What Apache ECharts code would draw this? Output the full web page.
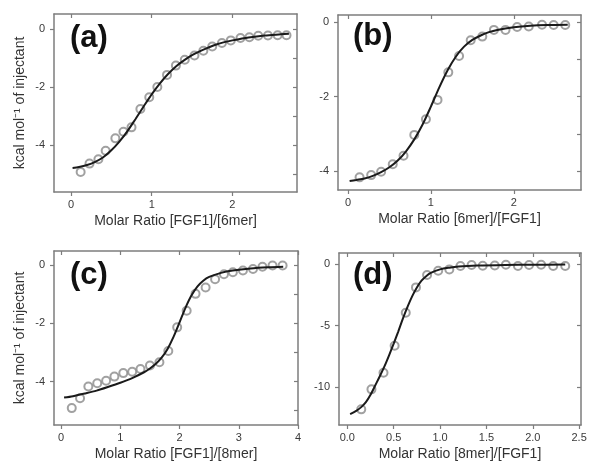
<!DOCTYPE html>
<html>
<head>
<meta charset="utf-8">
<script src="https://cdn.jsdelivr.net/npm/echarts@6/dist/echarts.min.js"></script>
<style>
html, body { margin: 0; background: #fff; }
#chart { width: 589px; height: 469px; }
</style>
</head>
<body>
<div id="chart"></div>
<script>
// (a) FGF1 into 6mer
var aPtX = [0.12, 0.23, 0.34, 0.43, 0.55, 0.65, 0.75, 0.86, 0.97, 1.07, 1.19, 1.30, 1.41, 1.53, 1.64, 1.75, 1.87, 1.98, 2.10, 2.21, 2.32, 2.44, 2.56, 2.67];
var aPtY = [-4.93, -4.64, -4.49, -4.20, -3.77, -3.54, -3.39, -2.76, -2.35, -2.00, -1.58, -1.26, -1.06, -0.91, -0.75, -0.60, -0.48, -0.39, -0.31, -0.28, -0.23, -0.22, -0.21, -0.21];
var aFitX = [0.02, 0.1, 0.2, 0.3, 0.4, 0.5, 0.6, 0.7, 0.8, 0.9, 1.0, 1.1, 1.2, 1.3, 1.4, 1.5, 1.6, 1.7, 1.8, 1.9, 2.0, 2.2, 2.4, 2.6, 2.7];
var aFitY = [-4.79, -4.76, -4.69, -4.58, -4.42, -4.18, -3.88, -3.52, -3.10, -2.67, -2.25, -1.88, -1.56, -1.29, -1.08, -0.90, -0.76, -0.64, -0.53, -0.45, -0.39, -0.29, -0.22, -0.18, -0.16];

// (b) 6mer into FGF1
var bPtX = [0.14, 0.28, 0.40, 0.54, 0.67, 0.80, 0.94, 1.08, 1.21, 1.34, 1.48, 1.62, 1.76, 1.90, 2.04, 2.18, 2.34, 2.48, 2.62];
var bPtY = [-4.17, -4.11, -4.02, -3.82, -3.59, -3.03, -2.61, -2.09, -1.35, -0.91, -0.49, -0.39, -0.21, -0.21, -0.13, -0.12, -0.07, -0.08, -0.08];
var bFitX = [0.02, 0.1, 0.2, 0.3, 0.4, 0.5, 0.6, 0.7, 0.8, 0.9, 1.0, 1.1, 1.2, 1.3, 1.4, 1.5, 1.6, 1.7, 1.8, 2.0, 2.2, 2.4, 2.65];
var bFitY = [-4.27, -4.24, -4.20, -4.13, -4.03, -3.90, -3.72, -3.47, -3.15, -2.75, -2.27, -1.76, -1.30, -0.93, -0.66, -0.48, -0.36, -0.27, -0.21, -0.14, -0.10, -0.08, -0.07];

// (c) FGF1 into 8mer
var cPtX = [0.18, 0.32, 0.46, 0.61, 0.76, 0.90, 1.05, 1.20, 1.34, 1.50, 1.66, 1.81, 1.96, 2.12, 2.27, 2.44, 2.60, 2.75, 2.90, 3.07, 3.24, 3.40, 3.57, 3.74];
var cPtY = [-4.91, -4.57, -4.17, -4.06, -3.97, -3.83, -3.71, -3.66, -3.57, -3.45, -3.34, -2.95, -2.14, -1.57, -0.99, -0.77, -0.49, -0.32, -0.25, -0.19, -0.14, -0.06, -0.02, -0.02];
var cFitX = [0.05, 0.2, 0.4, 0.6, 0.8, 1.0, 1.2, 1.4, 1.5, 1.6, 1.7, 1.8, 1.9, 2.0, 2.1, 2.2, 2.3, 2.4, 2.5, 2.7, 2.9, 3.2, 3.5, 3.75];
var cFitY = [-4.55, -4.50, -4.41, -4.31, -4.18, -4.04, -3.88, -3.68, -3.55, -3.39, -3.17, -2.87, -2.46, -1.97, -1.47, -1.05, -0.74, -0.54, -0.41, -0.27, -0.19, -0.12, -0.08, -0.06];

// (d) 8mer into FGF1
var dPtX = [0.15, 0.26, 0.39, 0.51, 0.63, 0.74, 0.86, 0.98, 1.10, 1.22, 1.34, 1.46, 1.59, 1.71, 1.84, 1.96, 2.09, 2.22, 2.35];
var dPtY = [-11.78, -10.16, -8.81, -6.62, -3.95, -1.89, -0.89, -0.54, -0.43, -0.16, -0.08, -0.14, -0.11, -0.05, -0.16, -0.08, -0.05, -0.16, -0.16];
var dFitX = [0.03, 0.1, 0.15, 0.2, 0.25, 0.3, 0.35, 0.4, 0.45, 0.5, 0.55, 0.6, 0.65, 0.7, 0.75, 0.8, 0.85, 0.9, 1.0, 1.1, 1.2, 1.4, 1.7, 2.0, 2.35];
var dFitY = [-12.16, -11.88, -11.6, -11.2, -10.6, -9.85, -9.1, -8.3, -7.4, -6.45, -5.45, -4.4, -3.45, -2.6, -1.9, -1.35, -0.98, -0.72, -0.43, -0.29, -0.2, -0.12, -0.07, -0.05, -0.04];

// tick values
var aXTicks = [0, 1, 2];
var aYTicks = [0, -2, -4];
var aYMirror = [0, -1, -2, -3, -4, -5];
var bXTicks = [0, 1, 2];
var bYTicks = [0, -2, -4];
var bYMirror = [0, -1, -2, -3, -4];
var cXTicks = [0, 1, 2, 3, 4];
var cYTicks = [0, -2, -4];
var cYMirror = [0, -1, -2, -3, -4, -5];
var dXTicks = [0, 0.5, 1, 1.5, 2, 2.5];
var dYTicks = [0, -5, -10];
var dYMirror = [0, -5, -10];

var font = '"Liberation Sans", Arial, sans-serif';
var boxColor = '#7d7d7d';
var yTitle = 'kcal mol\u207B\u00B9 of injectant';

function zip(xs, ys) {
  return xs.map(function (x, i) { return [x, ys[i]]; });
}

var panels = [
  { tag: '(a)', tagPos: [70, 23], grid: { left: 54, top: 14, width: 243, height: 178 },
    xr: [-0.21, 2.80], yr: [-5.62, 0.52], xt: aXTicks, yt: aYTicks, ym: aYMirror,
    xName: 'Molar Ratio [FGF1]/[6mer]', yName: yTitle, dec: 0,
    pts: zip(aPtX, aPtY), fit: zip(aFitX, aFitY) },
  { tag: '(b)', tagPos: [353, 21], grid: { left: 338, top: 15, width: 243, height: 175 },
    xr: [-0.12, 2.81], yr: [-4.51, 0.19], xt: bXTicks, yt: bYTicks, ym: bYMirror,
    xName: 'Molar Ratio [6mer]/[FGF1]', yName: '', dec: 0,
    pts: zip(bPtX, bPtY), fit: zip(bFitX, bFitY) },
  { tag: '(c)', tagPos: [70, 260], grid: { left: 54, top: 251, width: 244, height: 174 },
    xr: [-0.12, 4.0], yr: [-5.49, 0.48], xt: cXTicks, yt: cYTicks, ym: cYMirror,
    xName: 'Molar Ratio [FGF1]/[8mer]', yName: yTitle, dec: 0,
    pts: zip(cPtX, cPtY), fit: zip(cFitX, cFitY) },
  { tag: '(d)', tagPos: [353, 260], grid: { left: 339, top: 253, width: 242, height: 172 },
    xr: [-0.09, 2.52], yr: [-13.05, 0.9], xt: dXTicks, yt: dYTicks, ym: dYMirror,
    xName: 'Molar Ratio [8mer]/[FGF1]', yName: '', dec: 1,
    pts: zip(dPtX, dPtY), fit: zip(dFitX, dFitY) }
];

var grids = [], xAxes = [], yAxes = [], series = [], graphics = [];

panels.forEach(function (p, i) {
  grids.push(Object.assign({ outerBoundsMode: 'none', containLabel: false }, p.grid));
  var line = { show: true, onZero: false, lineStyle: { color: boxColor, width: 1.5 } };
  var dec = p.dec;
  // bottom
  xAxes.push({
    type: 'value', gridIndex: i, position: 'bottom', min: p.xr[0], max: p.xr[1],
    axisLine: line, splitLine: { show: false },
    axisTick: { customValues: p.xt, length: 4, lineStyle: { color: boxColor, width: 1.2 } },
    axisLabel: { customValues: p.xt, margin: 7, color: '#3a3a3a', fontSize: 11, fontFamily: font,
      formatter: function (v) { return v.toFixed(dec); } },
    name: p.xName, nameLocation: 'middle', nameGap: 22,
    nameTextStyle: { fontSize: 14, color: '#333', fontFamily: font }
  });
  // top mirror
  xAxes.push({
    type: 'value', gridIndex: i, position: 'top', min: p.xr[0], max: p.xr[1],
    axisLine: line, splitLine: { show: false },
    axisTick: { customValues: p.xt, inside: true, length: 4, lineStyle: { color: boxColor, width: 1.2 } },
    axisLabel: { show: false }
  });
  // left
  yAxes.push({
    type: 'value', gridIndex: i, position: 'left', min: p.yr[0], max: p.yr[1],
    axisLine: line, splitLine: { show: false },
    axisTick: { customValues: p.yt, length: 4, lineStyle: { color: boxColor, width: 1.2 } },
    axisLabel: { customValues: p.yt, margin: 9, color: '#3a3a3a', fontSize: 11, fontFamily: font },
    name: p.yName, nameLocation: 'middle', nameGap: 27,
    nameTextStyle: { fontSize: 14, color: '#333', fontFamily: font }
  });
  // right mirror
  yAxes.push({
    type: 'value', gridIndex: i, position: 'right', min: p.yr[0], max: p.yr[1],
    axisLine: line, splitLine: { show: false },
    axisTick: { customValues: p.ym, inside: true, length: 4, lineStyle: { color: boxColor, width: 1.2 } },
    axisLabel: { show: false }
  });

  series.push({
    type: 'scatter', xAxisIndex: 2 * i, yAxisIndex: 2 * i, data: p.pts,
    symbol: 'emptyCircle', symbolSize: 8, z: 2,
    itemStyle: { color: '#8a8a8a', borderWidth: 1.2 }
  });
  series.push({
    type: 'line', xAxisIndex: 2 * i, yAxisIndex: 2 * i, data: p.fit,
    smooth: 0.3, showSymbol: false, z: 3,
    lineStyle: { color: '#1a1a1a', width: 2 }
  });

  graphics.push({
    type: 'text', left: p.tagPos[0], top: p.tagPos[1],
    style: { text: p.tag, font: 'bold 31px ' + font, fill: '#111' }
  });
});

var chart = echarts.init(document.getElementById('chart'));
chart.setOption({
  animation: false,
  backgroundColor: '#fff',
  grid: grids,
  xAxis: xAxes,
  yAxis: yAxes,
  series: series,
  graphic: graphics
});
</script>
</body>
</html>
